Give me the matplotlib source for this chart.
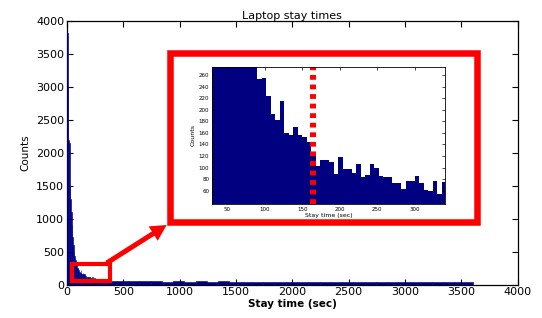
import numpy as np
import matplotlib
matplotlib.use("Agg")
import matplotlib.pyplot as plt
from matplotlib.patches import Rectangle, FancyArrow
from matplotlib.transforms import IdentityTransform

plt.rcParams['font.family'] = ['DejaVu Sans']

# ----------------------------------------------------------------------------
# Data (counts per 6-second bin)
# ----------------------------------------------------------------------------
bin_width = 6
head_start = 0
head_counts = [3820, 3000, 2200, 2150, 1500, 1300, 1100, 900, 720, 600,
               500, 430, 380, 330, 290]
mid_start = 90
mid_counts = [253, 255, 224, 193, 182, 216, 160, 157, 171, 156,
              153, 145, 123, 103, 113, 113, 109, 89, 118, 98,
              98, 91, 107, 83, 87, 106, 100, 85, 83, 83,
              74, 74, 63, 77, 76, 85, 73, 61, 59, 77,
              54, 75]
# long tail, read at a coarse 100 s resolution
tail_start = [342, 442, 542, 642, 742, 842, 942, 1042, 1142, 1242,
              1342, 1442, 1542, 1642, 1742, 1842, 1942, 2042, 2142, 2242,
              2342, 2442, 2542, 2642, 2742, 2842, 2942, 3042, 3142, 3242,
              3342, 3442, 3542]
tail_end = 3606
tail_counts = [60, 55, 50, 52, 48, 45, 50, 45, 48, 45,
               50, 42, 45, 40, 45, 42, 40, 45, 38, 40,
               38, 42, 40, 38, 40, 38, 42, 38, 36, 40,
               36, 35, 34]
threshold = 165

head_x = head_start + bin_width * np.arange(len(head_counts))
mid_x = mid_start + bin_width * np.arange(len(mid_counts))
tail_w = np.diff(tail_start + [tail_end])

bar_color = '#000080'

fig = plt.figure(figsize=(5.42, 3.18), dpi=100)

# ----------------------------------------------------------------------------
# Main histogram
# ----------------------------------------------------------------------------
ax = fig.add_axes([0.1236, 0.1053, 0.8312, 0.8271])
for xs, cs, w in [(head_x, head_counts, bin_width), (mid_x, mid_counts, bin_width),
                  (tail_start, tail_counts, tail_w)]:
    ax.bar(xs, cs, width=w, align='edge', color=bar_color, edgecolor=bar_color,
           linewidth=0.4, zorder=3)
ax.set_xlim(0, 4000)
ax.set_ylim(0, 4000)
ax.set_xticks(np.arange(0, 4001, 500))
ax.set_yticks(np.arange(0, 4001, 500))
ax.tick_params(direction='in', top=True, right=True, labelsize=8, length=4, width=0.8, pad=2)
ax.set_title('Laptop stay times', fontsize=8, pad=2)
ax.set_xlabel('Stay time (sec)', fontsize=7.5, fontweight='bold', labelpad=1)
ax.set_ylabel('Counts', fontsize=7.5, labelpad=4)
for s in ax.spines.values():
    s.set_linewidth(0.9)

# small red box around the zoomed region
ax.add_patch(Rectangle((44, 46), 336, 267, fill=False, edgecolor='red',
                       linewidth=3.0, clip_on=False, zorder=5))

# ----------------------------------------------------------------------------
# Big red frame + inset
# ----------------------------------------------------------------------------
fig.add_artist(Rectangle((170 / 542, 1 - 221.7 / 318), 306.5 / 542, 168.4 / 318,
                         transform=fig.transFigure, fill=False, edgecolor='red',
                         linewidth=4.7, zorder=3))

axi = fig.add_axes([0.3911, 0.3585, 0.4299, 0.4308])
for xs, cs, w in [(head_x, head_counts, bin_width), (mid_x, mid_counts, bin_width),
                  (tail_start, tail_counts, tail_w)]:
    axi.bar(xs, cs, width=w, align='edge', color=bar_color, linewidth=0)
axi.axvline(threshold, color='red', linewidth=4.3, linestyle=(0, (0.8, 0.8)))
axi.set_xlim(30, 340)
axi.set_ylim(37, 274)
axi.set_xticks(np.arange(50, 301, 50))
axi.set_yticks(np.arange(60, 261, 20))
axi.tick_params(direction='in', top=True, right=True, labelsize=4, length=2.5, width=0.5, pad=2)
axi.set_xlabel('Stay time (sec)', fontsize=4.5, labelpad=1)
axi.set_ylabel('Counts', fontsize=4.5, labelpad=2)
for s in axi.spines.values():
    s.set_linewidth(0.6)

# arrow from the small box to the big frame
fig.add_artist(FancyArrow(106.7, 318 - 263, 60, 38, width=5, head_width=17,
                          head_length=16, length_includes_head=True,
                          color='red', linewidth=0, transform=IdentityTransform(),
                          zorder=6))

fig.savefig('out.png', dpi=100)
